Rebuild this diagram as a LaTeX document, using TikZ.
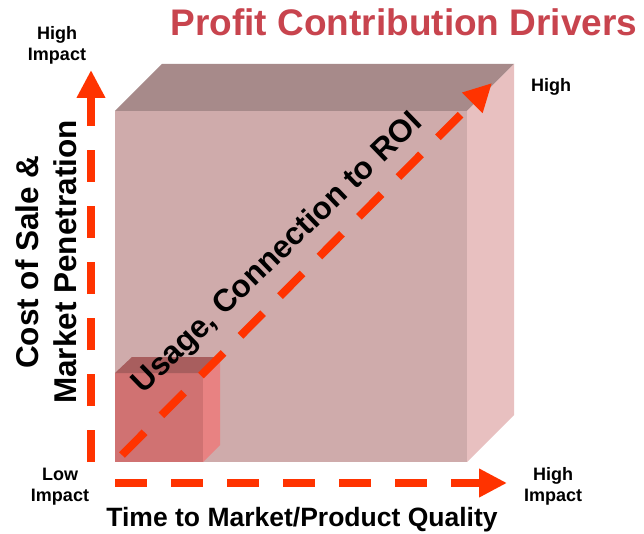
\documentclass[tikz,border=0pt]{standalone}
\usepackage{fontspec}
\setmainfont{Liberation Sans}
\usetikzlibrary{arrows.meta}
\definecolor{arrred}{RGB}{255,51,0}
\definecolor{titlered}{RGB}{200,68,78}
\definecolor{bigfront}{RGB}{207,171,171}
\definecolor{bigtop}{RGB}{167,138,138}
\definecolor{bigright}{RGB}{232,192,192}
\definecolor{smfront}{RGB}{208,114,114}
\definecolor{smtop}{RGB}{168,94,94}
\definecolor{smright}{RGB}{232,130,130}
\tikzset{
  axisarrow/.style={draw=arrred, line width=8pt, dash pattern=on 32pt off 24pt,
    -{Triangle[length=28pt,width=27pt,fill=arrred]}},
  lbl/.style={inner sep=0pt, align=center, font=\bfseries\fontsize{18}{21}\selectfont},
}
\begin{document}
\begin{tikzpicture}[x=1pt,y=-1pt]
\useasboundingbox[fill=white] (0,0) rectangle (644,534);
% big box
\fill[bigfront] (115,111) rectangle (467,462);
\fill[bigtop] (115,111) -- (162,64) -- (514,64) -- (467,111) -- cycle;
\fill[bigright] (467,111) -- (514,64) -- (514,415) -- (467,462) -- cycle;
% small box
\fill[smfront] (115,373) rectangle (203,462);
\fill[smtop] (115,373) -- (132,357) -- (220,357) -- (203,373) -- cycle;
\fill[smright] (203,373) -- (220,357) -- (220,445) -- (203,462) -- cycle;
% axes coordinates
\coordinate (vstart) at (91,462);
\coordinate (vend) at (91,70);
\coordinate (hstart) at (115,483);
\coordinate (hend) at (507,483);
\coordinate (dstart) at (122,455);
\coordinate (dend) at (492,83);
% diagonal arrow
\draw[axisarrow] (dstart) -- (dend);
% diagonal text
\node[inner sep=0pt, rotate=44, font=\bfseries\fontsize{31.5}{38}\selectfont] (diag) at (278,254) {Usage, Connection to ROI};
% axes
\draw[axisarrow] (vstart) -- (vend);
\draw[axisarrow] (hstart) -- (hend);
% title
\node[inner sep=0pt, text=titlered, font=\bfseries\fontsize{37}{40}\selectfont] (title) at (404,22) {Profit Contribution Drivers};
% labels
\node[lbl] (hitop) at (57,45) {High\\Impact};
\node[lbl] (low) at (60,487) {Low\\Impact};
\node[lbl] (hibot) at (553,486) {High\\Impact};
\node[lbl] (hiright) at (551,87) {High};
\node[inner sep=0pt, font=\bfseries\fontsize{26.5}{30}\selectfont] (xlab) at (302,520) {Time to Market/Product Quality};
\node[inner sep=0pt, rotate=90, align=center, font=\bfseries\fontsize{31.5}{38}\selectfont] (ylab) at (46,262) {Cost of Sale \&\\Market Penetration};
\end{tikzpicture}
\end{document}
